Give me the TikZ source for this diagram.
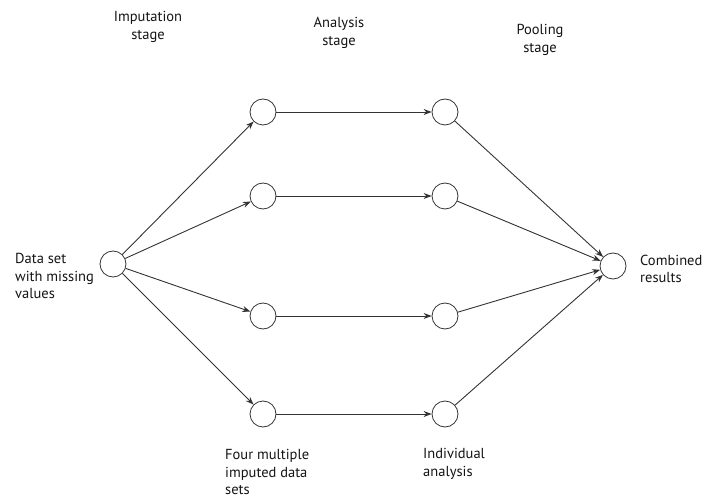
\documentclass[tikz,border=0pt]{standalone}
\usepackage{fontspec}
\setmainfont{PT Sans}
\usetikzlibrary{arrows.meta}
\begin{document}
\begin{tikzpicture}[x=1bp,y=-1bp,
  dot/.style={circle,draw=black!80,line width=0.8bp,minimum size=26bp,inner sep=0pt},
  conn/.style={draw=black!80,line width=0.9bp,-{Stealth[length=8bp,width=6bp]}},
  lbl/.style={font=\fontsize{14.5bp}{17.5bp}\selectfont,align=left,inner sep=0pt,text=black!92},
  clbl/.style={font=\fontsize{14.5bp}{17.5bp}\selectfont,align=center,inner sep=0pt,text=black!92}]
\useasboundingbox (0,0) rectangle (707,500);
\node[dot] (s) at (113,264) {};
\node[dot] (a1) at (263,112) {};
\node[dot] (a2) at (263,196) {};
\node[dot] (a3) at (263,316) {};
\node[dot] (a4) at (263,414) {};
\node[dot] (b1) at (445,112) {};
\node[dot] (b2) at (445,196) {};
\node[dot] (b3) at (445,316) {};
\node[dot] (b4) at (445,414) {};
\node[dot] (r) at (613,266) {};
\foreach \i in {1,2,3,4}{
  \draw[conn] (s) -- (a\i);
  \draw[conn] (a\i) -- (b\i);
  \draw[conn] (b\i) -- (r);
}
\node[clbl] (t1) at (148,27) {Imputation\\stage};
\node[clbl] (t2) at (339,33) {Analysis\\stage};
\node[clbl] (t3) at (540,40) {Pooling\\stage};
\node[lbl,anchor=west] (ls) at (15,276) {Data set\\with missing\\values};
\node[lbl,anchor=west] (lr) at (640,269) {Combined\\results};
\node[lbl,anchor=west] (la) at (225,472) {Four multiple\\imputed data\\sets};
\node[lbl,anchor=west] (lb) at (423,464) {Individual\\analysis};
\end{tikzpicture}
\end{document}
